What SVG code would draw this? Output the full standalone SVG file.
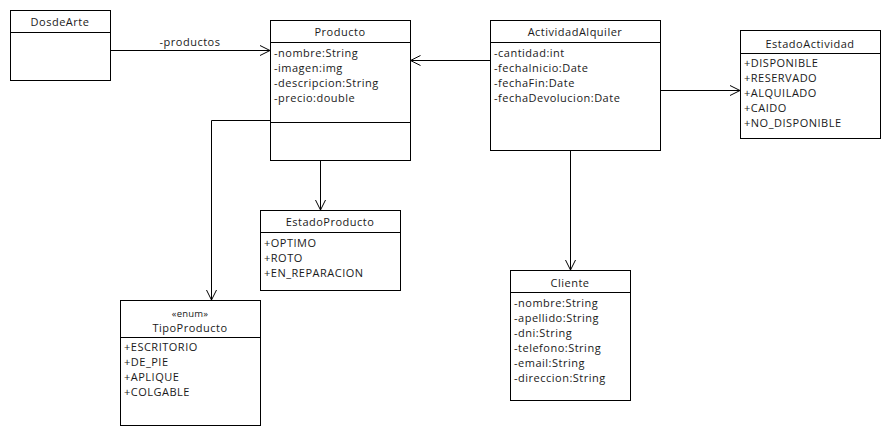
<svg xmlns="http://www.w3.org/2000/svg" width="890" height="430" viewBox="0 0 890 430">
  <style>
    .box { fill: #ffffff; stroke: #000000; stroke-width: 1; }
    .sep { stroke: #000000; stroke-width: 1; }
    text { font-family: "Open Sans", "DejaVu Sans", sans-serif; font-size: 11px; letter-spacing: 0.5px; fill: #1a1a1a; }
    .title { text-anchor: middle; }
    .small { font-size: 9.5px; letter-spacing: 0.2px; }
    .edge { fill: none; stroke: #000000; stroke-width: 1; }
  </style>
  <defs>
    <marker id="open" viewBox="0 0 12 12" refX="11" refY="6" markerWidth="12" markerHeight="12" markerUnits="userSpaceOnUse" orient="auto">
      <path d="M1,1 L11,6 L1,11" fill="none" stroke="#000000" stroke-width="1"/>
    </marker>
  </defs>
  <rect width="890" height="430" fill="#ffffff"/>

  <g id="connectors">
    <path class="edge" d="M110.5,50.5 H270" marker-end="url(#open)"/>
    <text x="190" y="46" class="title">-productos</text>
    <path class="edge" d="M490,60.5 H410.5" marker-end="url(#open)"/>
    <path class="edge" d="M660,90.5 H740" marker-end="url(#open)"/>
    <path class="edge" d="M320.5,160 V210" marker-end="url(#open)"/>
    <path class="edge" d="M270,120.5 H211.5 V300" marker-end="url(#open)"/>
    <path class="edge" d="M570.5,150 V270" marker-end="url(#open)"/>
  </g>

  <g id="DosdeArte">
    <rect class="box" x="10.5" y="10.5" width="100" height="70"/>
    <line class="sep" x1="10.5" y1="32.5" x2="110.5" y2="32.5"/>
    <text x="60" y="26" class="title">DosdeArte</text>
  </g>

  <g id="Producto">
    <rect class="box" x="270.5" y="20.5" width="140" height="140"/>
    <line class="sep" x1="270.5" y1="42.5" x2="410.5" y2="42.5"/>
    <line class="sep" x1="270.5" y1="122.5" x2="410.5" y2="122.5"/>
    <text x="340" y="36" class="title">Producto</text>
    <text x="274" y="57">-nombre:String</text>
    <text x="274" y="72">-imagen:img</text>
    <text x="274" y="87">-descripcion:String</text>
    <text x="274" y="102">-precio:double</text>
  </g>

  <g id="ActividadAlquiler">
    <rect class="box" x="490.5" y="20.5" width="170" height="130"/>
    <line class="sep" x1="490.5" y1="42.5" x2="660.5" y2="42.5"/>
    <text x="575" y="36" class="title">ActividadAlquiler</text>
    <text x="494" y="57">-cantidad:int</text>
    <text x="494" y="72">-fechaInicio:Date</text>
    <text x="494" y="87">-fechaFin:Date</text>
    <text x="494" y="102">-fechaDevolucion:Date</text>
  </g>

  <g id="EstadoActividad">
    <rect class="box" x="740.5" y="30.5" width="140" height="108"/>
    <line class="sep" x1="740.5" y1="53.5" x2="880.5" y2="53.5"/>
    <text x="810" y="48" class="title">EstadoActividad</text>
    <text x="744" y="67">+DISPONIBLE</text>
    <text x="744" y="82">+RESERVADO</text>
    <text x="744" y="97">+ALQUILADO</text>
    <text x="744" y="112">+CAIDO</text>
    <text x="744" y="127">+NO_DISPONIBLE</text>
  </g>

  <g id="EstadoProducto">
    <rect class="box" x="260.5" y="210.5" width="140" height="80"/>
    <line class="sep" x1="260.5" y1="232.5" x2="400.5" y2="232.5"/>
    <text x="330" y="226" class="title">EstadoProducto</text>
    <text x="264" y="247">+OPTIMO</text>
    <text x="264" y="262">+ROTO</text>
    <text x="264" y="277">+EN_REPARACION</text>
  </g>

  <g id="TipoProducto">
    <rect class="box" x="120.5" y="300.5" width="140" height="125"/>
    <line class="sep" x1="120.5" y1="337.5" x2="260.5" y2="337.5"/>
    <text x="190" y="317" class="title small">«enum»</text>
    <text x="190" y="332" class="title">TipoProducto</text>
    <text x="124" y="351">+ESCRITORIO</text>
    <text x="124" y="366">+DE_PIE</text>
    <text x="124" y="381">+APLIQUE</text>
    <text x="124" y="396">+COLGABLE</text>
  </g>

  <g id="Cliente">
    <rect class="box" x="510.5" y="270.5" width="120" height="130"/>
    <line class="sep" x1="510.5" y1="292.5" x2="630.5" y2="292.5"/>
    <text x="570" y="287" class="title">Cliente</text>
    <text x="514" y="307">-nombre:String</text>
    <text x="514" y="322">-apellido:String</text>
    <text x="514" y="337">-dni:String</text>
    <text x="514" y="352">-telefono:String</text>
    <text x="514" y="367">-email:String</text>
    <text x="514" y="382">-direccion:String</text>
  </g>
</svg>
